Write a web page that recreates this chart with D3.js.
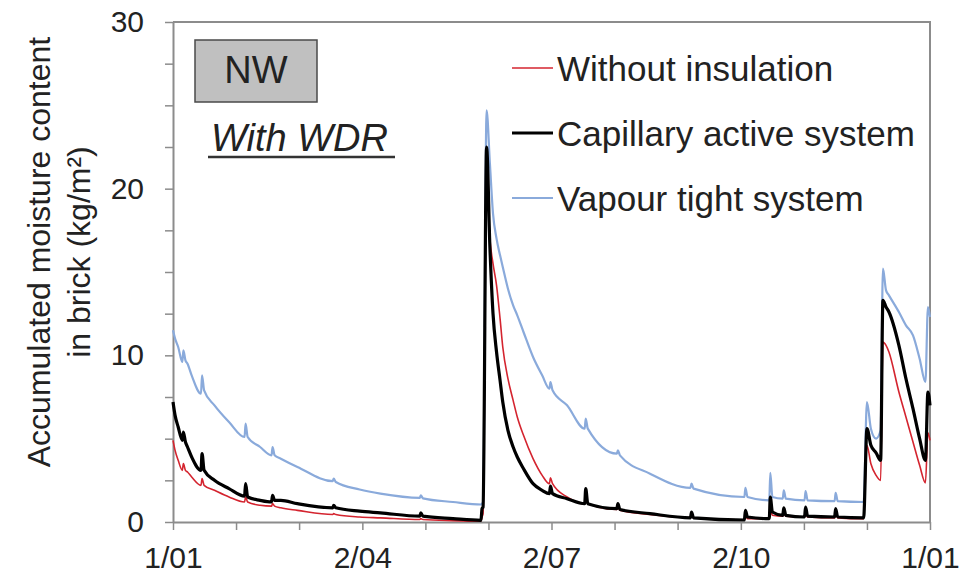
<!DOCTYPE html>
<html>
<head>
<meta charset="utf-8">
<script src="https://cdn.jsdelivr.net/npm/d3@7"></script>
<style>
  html, body { margin: 0; padding: 0; background: #fff; }
  svg text { font-family: "Liberation Sans", Arial, sans-serif; fill: #222; }
</style>
</head>
<body>
<svg id="chart" width="965" height="579"></svg>
<script>
// day of year (0..365) shared by all three series
const days = [
  0, 1, 2.5, 4.5, 5, 6, 7, 9, 13.5, 14, 15, 20, 27, 34.5, 35, 36, 42, 47.5, 48, 49, 52, 60,
  77, 77.5, 78.5, 90, 100, 119, 119.5, 120.5, 135, 148.5, 149, 149.5, 151.2,
  152.8, 154.3, 156, 157.7, 159, 161.5, 164, 166, 169, 173.6, 178, 181.5, 182, 183, 190,
  198.5, 199, 200, 214, 214.5, 215.5, 230, 249.5, 250, 251, 275.5, 276, 277,
  287.5, 288, 289, 294, 294.5, 295.5, 304.5, 305, 306, 319, 319.5, 320.5, 333,
  334.6, 336.5, 339, 341.2, 342.3, 343.8, 345.2, 350, 353.4, 356.8, 360, 362.8, 364, 365
];

const withoutInsulation = [
  4.9, 4.3, 3.7, 3.1, 3.5, 3.1, 3.0, 2.7, 2.2, 2.6, 2.2, 1.9, 1.5, 1.2, 1.5, 1.2, 1.0, 0.95, 1.1, 0.95, 0.85, 0.7,
  0.45, 0.5, 0.45, 0.3, 0.25, 0.15, 0.2, 0.15, 0.08, 0.05, 0.3, 0.5, 21.0,
  17.0, 15.5, 14.2, 12.2, 10.5, 8.6, 7.3, 6.3, 5.2, 3.8, 2.8, 2.3, 2.65, 2.3, 1.5,
  1.1, 1.5, 1.1, 0.75, 0.9, 0.7, 0.45, 0.25, 0.4, 0.25, 0.12, 0.35, 0.2,
  0.2, 0.8, 0.4, 0.35, 0.5, 0.35, 0.3, 0.5, 0.3, 0.25, 0.45, 0.25, 0.2,
  4.6, 3.5, 2.8, 2.5, 10.8, 10.6, 10.2, 7.8, 6.3, 4.8, 3.4, 2.35, 5.35, 4.9
];

const capillaryActive = [
  7.2, 6.4, 5.7, 4.9, 5.4, 4.8, 4.5, 3.9, 3.1, 4.1, 3.1, 2.5, 2.0, 1.55, 2.3, 1.5, 1.3, 1.2, 1.6, 1.3, 1.3, 1.1,
  0.85, 1.0, 0.85, 0.65, 0.55, 0.35, 0.55, 0.35, 0.2, 0.1, 0.8, 0.9, 22.5,
  16.5, 12.5, 10.2, 8.5, 7.2, 5.5, 4.5, 3.9, 3.2, 2.3, 1.9, 1.7, 2.15, 1.7, 1.4,
  1.1, 2.0, 1.1, 0.8, 1.1, 0.75, 0.5, 0.25, 0.6, 0.25, 0.12, 0.7, 0.3,
  0.2, 1.5, 0.6, 0.4, 0.85, 0.4, 0.3, 0.9, 0.35, 0.3, 0.8, 0.3, 0.25,
  5.6, 4.6, 4.15, 3.7, 13.3, 12.9, 12.6, 10.6, 8.6, 6.8, 5.0, 3.7, 7.8, 7.0
];

const vapourTight = [
  11.5, 11.0, 10.5, 9.6, 10.3, 9.7, 9.5, 8.8, 7.7, 8.8, 7.9, 7.0, 6.0, 5.1, 5.9, 5.1, 4.5, 4.0, 4.5, 4.0, 3.8, 3.3,
  2.45, 2.6, 2.4, 1.95, 1.7, 1.45, 1.6, 1.42, 1.2, 1.05, 1.1, 1.2, 24.7,
  21.5, 18.5, 17.0, 16.0, 15.3, 14.0, 13.0, 12.4, 11.4, 9.9, 8.8, 8.0, 8.4, 7.9, 7.0,
  5.6, 6.2, 5.6, 4.1, 4.3, 4.0, 2.9, 2.05, 2.3, 2.0, 1.5, 2.05, 1.5,
  1.3, 2.95, 1.5, 1.4, 1.9, 1.4, 1.3, 1.85, 1.3, 1.25, 1.75, 1.25, 1.2,
  7.2, 5.6, 5.0, 5.5, 15.2, 13.9, 13.6, 12.6, 11.8, 11.2, 9.8, 8.4, 12.9, 12.3
];

const seriesNames = ['Without insulation', 'Capillary active system', 'Vapour tight system'];
const xTickDays = [0, 30.4, 60.8, 91.3, 121.7, 152.1, 182.5, 212.9, 243.3, 273.8, 304.2, 334.6, 365];
const xTickLabels = ['1/01', '', '', '2/04', '', '', '2/07', '', '', '2/10', '', '', '1/01'];
const yTicks = [0, 2.5, 5, 7.5, 10, 12.5, 15, 17.5, 20, 22.5, 25, 27.5, 30];
const yTickLabels = ['0', '', '', '', '10', '', '', '', '20', '', '', '', '30'];

const width = 965, height = 579;
const margin = { top: 22, right: 35, bottom: 57, left: 173 };

const svg = d3.select('#chart');

const xScale = d3.scaleLinear()
  .domain([0, 365])
  .range([margin.left, width - margin.right]);

const yScale = d3.scaleLinear()
  .domain([0, 30])
  .range([height - margin.bottom, margin.top]);

const axisColor = '#8c8c8c';

// frame (top + right)
svg.append('path')
  .attr('d', `M${xScale(0)},${yScale(30)}H${xScale(365)}V${yScale(0)}`)
  .attr('fill', 'none')
  .attr('stroke', axisColor)
  .attr('stroke-width', 2);

// axes
const xAxis = d3.axisBottom(xScale)
  .tickValues(xTickDays)
  .tickFormat((d, i) => xTickLabels[i])
  .tickSizeInner(8)
  .tickSizeOuter(0)
  .tickPadding(17);

const yAxis = d3.axisLeft(yScale)
  .tickValues(yTicks)
  .tickFormat((d, i) => yTickLabels[i])
  .tickSizeInner(8)
  .tickSizeOuter(0)
  .tickPadding(21);

const xAxisG = svg.append('g')
  .attr('transform', `translate(0,${yScale(0)})`)
  .call(xAxis);

const yAxisG = svg.append('g')
  .attr('transform', `translate(${xScale(0)},0)`)
  .call(yAxis);

[xAxisG, yAxisG].forEach(g => {
  g.select('.domain').attr('stroke', axisColor).attr('stroke-width', 2);
  g.selectAll('.tick line').attr('stroke', axisColor).attr('stroke-width', 1.5);
  g.selectAll('.tick text')
    .style('font-size', '30px')
    .style('font-family', '"Liberation Sans", Arial, sans-serif')
    .attr('fill', '#222');
});

// y axis title
const yTitle = svg.append('text')
  .attr('transform', `translate(50,${(yScale(0) + yScale(30)) / 2 - 20}) rotate(-90)`)
  .attr('text-anchor', 'middle')
  .style('font-size', '32px');
yTitle.append('tspan').attr('x', 0).attr('y', 0).text('Accumulated moisture content');
yTitle.append('tspan').attr('x', 0).attr('y', 40).text('in brick (kg/m²)');

// lines
const line = d3.line()
  .x(d => xScale(d[0]))
  .y(d => yScale(d[1]))
  .curve(d3.curveMonotoneX);

const series = [
  { name: seriesNames[2], values: vapourTight, color: '#8aaadb', width: 2.2 },
  { name: seriesNames[0], values: withoutInsulation, color: '#d4242f', width: 1.6 },
  { name: seriesNames[1], values: capillaryActive, color: '#000000', width: 3.2 }
];

series.forEach(s => {
  svg.append('path')
    .datum(days.map((d, i) => [d, s.values[i]]))
    .attr('fill', 'none')
    .attr('stroke', s.color)
    .attr('stroke-width', s.width)
    .attr('stroke-linejoin', 'round')
    .attr('d', line);
});

// legend
const legendItems = [
  { name: seriesNames[0], color: '#d4242f', width: 1.6 },
  { name: seriesNames[1], color: '#000000', width: 3.2 },
  { name: seriesNames[2], color: '#8aaadb', width: 2.2 }
];

const legend = svg.append('g');
legendItems.forEach((item, i) => {
  const baseY = 81 + i * 65;
  legend.append('line')
    .attr('x1', 512).attr('x2', 553)
    .attr('y1', baseY - 13).attr('y2', baseY - 13)
    .attr('stroke', item.color)
    .attr('stroke-width', item.width);
  legend.append('text')
    .attr('x', 557)
    .attr('y', baseY)
    .style('font-size', '35px')
    .text(item.name);
});

// NW label box
svg.append('rect')
  .attr('x', 195).attr('y', 40)
  .attr('width', 122).attr('height', 62)
  .attr('fill', '#c0c0c0')
  .attr('stroke', '#4a4a4a')
  .attr('stroke-width', 1.5);

svg.append('text')
  .attr('x', 256).attr('y', 83)
  .attr('text-anchor', 'middle')
  .style('font-size', '38px')
  .text('NW');

svg.append('text')
  .attr('x', 211).attr('y', 151)
  .style('font-size', '38px')
  .style('font-style', 'italic')
  .text('With WDR');

svg.append('line')
  .attr('x1', 208).attr('x2', 395)
  .attr('y1', 157).attr('y2', 157)
  .attr('stroke', '#333')
  .attr('stroke-width', 2.5);
</script>
</body>
</html>
